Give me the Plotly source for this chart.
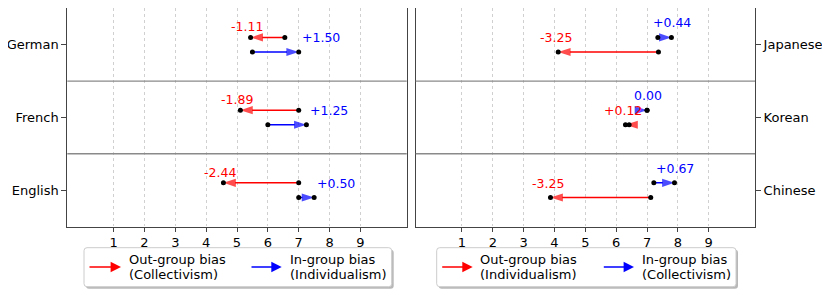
import plotly.graph_objects as go

# ---------------- data ----------------
left_langs = ["German", "French", "English"]
left_out_start = [6.55, 7.00, 7.00]
left_out_end = [5.44, 5.11, 4.56]
left_out_label = ["-1.11", "-1.89", "-2.44"]
left_in_start = [5.50, 6.00, 7.00]
left_in_end = [7.00, 7.25, 7.50]
left_in_label = ["+1.50", "+1.25", "+0.50"]

right_langs = ["Japanese", "Korean", "Chinese"]
right_in_start = [7.35, 7.00, 7.22]
right_in_end = [7.79, 7.00, 7.89]
right_in_label = ["+0.44", "0.00", "+0.67"]
right_out_start = [7.37, 6.42, 7.12]
right_out_end = [4.12, 6.30, 3.87]
right_out_label = ["-3.25", "+0.12", "-3.25"]

x_ticks = [1, 2, 3, 4, 5, 6, 7, 8, 9]
left_legend = ["Out-group bias", "(Collectivism)", "In-group bias", "(Individualism)"]
right_legend = ["Out-group bias", "(Individualism)", "In-group bias", "(Collectivism)"]

# ---------------- style ----------------
PAGE_OFF = 8          # default body margin of the page
W, H = 830 - PAGE_OFF, 297 - PAGE_OFF
FONT = "DejaVu Sans"
RED, BLUE = "#ff0000", "#0000ff"
SPINE = "#444444"
OFF = 0.1


def px(x):
    return (x - PAGE_OFF) / W


def py(y):
    return 1 - (y - PAGE_OFF) / H


fig = go.Figure()
annotations = []
shapes = []


def add_arrow(xs, xe, y, color, xa, ya):
    fig.add_trace(go.Scatter(
        x=[xs, xe], y=[y, y], xaxis=xa, yaxis=ya, mode="lines+markers",
        line=dict(color=color, width=1.5),
        marker=dict(symbol="arrow", size=[0, 13], angleref="previous", color=color,
                    line=dict(width=0)),
        showlegend=False, hoverinfo="skip"))


def add_dots(xs, ys, xa, ya):
    fig.add_trace(go.Scatter(
        x=xs, y=ys, xaxis=xa, yaxis=ya, mode="markers",
        marker=dict(color="black", size=5), showlegend=False, hoverinfo="skip"))


# left panel: out-group (red) on upper line, in-group (blue) lower
dx, dy = [], []
for i in range(3):
    add_arrow(left_out_start[i], left_out_end[i], i - OFF, RED, "x", "y")
    add_arrow(left_in_start[i], left_in_end[i], i + OFF, BLUE, "x", "y")
    dx += [left_out_start[i], left_out_end[i], left_in_start[i], left_in_end[i]]
    dy += [i - OFF, i - OFF, i + OFF, i + OFF]
    annotations.append(dict(x=left_out_end[i] - 0.1, y=i - 0.245, xref="x", yref="y",
                            text=left_out_label[i], showarrow=False, xanchor="center",
                            yanchor="middle", font=dict(color=RED, size=12.5, family=FONT)))
    annotations.append(dict(x=left_in_end[i] + 0.04, y=i - 0.095, xref="x", yref="y",
                            text=left_in_label[i], showarrow=False, xanchor="left",
                            yanchor="middle", font=dict(color=BLUE, size=12.5, family=FONT)))
add_dots(dx, dy, "x", "y")

# right panel: in-group (blue) on upper line, out-group (red) lower
dx, dy = [], []
for i in range(3):
    add_arrow(right_in_start[i], right_in_end[i], i - OFF, BLUE, "x2", "y2")
    add_arrow(right_out_start[i], right_out_end[i], i + OFF, RED, "x2", "y2")
    dx += [right_in_start[i], right_in_end[i], right_out_start[i], right_out_end[i]]
    dy += [i - OFF, i - OFF, i + OFF, i + OFF]
    annotations.append(dict(x=right_in_end[i] + 0.02, y=i - 0.3, xref="x2", yref="y2",
                            text=right_in_label[i], showarrow=False, xanchor="center",
                            yanchor="middle", font=dict(color=BLUE, size=12.5, family=FONT)))
    annotations.append(dict(x=right_out_end[i] - 0.08, y=i - 0.097, xref="x2", yref="y2",
                            text=right_out_label[i], showarrow=False, xanchor="center",
                            yanchor="middle", font=dict(color=RED, size=12.5, family=FONT)))
add_dots(dx, dy, "x2", "y2")

# row separators
for ya in ["y", "y2"]:
    xa = "x" if ya == "y" else "x2"
    for yv in [0.5, 1.5]:
        shapes.append(dict(type="line", xref=f"{xa} domain", yref=ya, x0=0, x1=1,
                           y0=yv, y1=yv, line=dict(color="#8a8a8a", width=1.3),
                           layer="above"))


# legends (manual boxes)
def rounded(x0, y0, x1, y1, r):
    return (f"M{px(x0+r)},{py(y0)} L{px(x1-r)},{py(y0)} Q{px(x1)},{py(y0)} {px(x1)},{py(y0+r)} "
            f"L{px(x1)},{py(y1-r)} Q{px(x1)},{py(y1)} {px(x1-r)},{py(y1)} "
            f"L{px(x0+r)},{py(y1)} Q{px(x0)},{py(y1)} {px(x0)},{py(y1-r)} "
            f"L{px(x0)},{py(y0+r)} Q{px(x0)},{py(y0)} {px(x0+r)},{py(y0)} Z")


def add_legend(x0, x1, texts, a1, t1, a2, t2):
    y0, y1 = 247.7, 286.7
    shapes.append(dict(type="path", xref="paper", yref="paper",
                       path=rounded(x0 + 2, y0 + 2, x1 + 2, y1 + 2, 3),
                       fillcolor="rgba(0,0,0,0.28)", line=dict(width=0)))
    shapes.append(dict(type="path", xref="paper", yref="paper",
                       path=rounded(x0, y0, x1, y1, 3),
                       fillcolor="white", line=dict(color="#cccccc", width=1)))
    for (ax0, ax1), col in [(a1, RED), (a2, BLUE)]:
        annotations.append(dict(x=px(ax1), y=py(267), xref="paper", yref="paper",
                                ax=-(ax1 - ax0), ay=0, text="", showarrow=True,
                                arrowhead=2, arrowsize=1.3, arrowwidth=1.6,
                                arrowcolor=col))
    for tx, lines in [(t1, texts[0:2]), (t2, texts[2:4])]:
        for k, ly in enumerate([259.3, 274.3]):
            annotations.append(dict(x=px(tx), y=py(ly), xref="paper", yref="paper",
                                    text=lines[k], showarrow=False, xanchor="left",
                                    yanchor="middle", font=dict(size=13, family=FONT,
                                                                color="black")))


add_legend(84, 391.7, left_legend, (88, 121), 126.7, (250, 281.7), 287.7)
add_legend(436.7, 736, right_legend, (440.7, 472.7), 478.3, (602.3, 634), 640)

ydom = [py(226.5), py(8.3)]
xaxis_common = dict(range=[-0.5, 10.5], tickvals=x_ticks, ticktext=[str(t) for t in x_ticks],
                    showgrid=True, gridcolor="#d0d0d0", griddash="dot", gridwidth=0.8,
                    showline=True, linecolor=SPINE, linewidth=1, mirror=True,
                    ticks="outside", ticklen=4, tickcolor=SPINE, zeroline=False,
                    tickfont=dict(size=13, family=FONT, color="black"))
yaxis_common = dict(range=[2.5, -0.5], tickvals=[0, 1, 2], showgrid=False,
                    showline=True, linecolor=SPINE, linewidth=1, mirror=True,
                    ticks="outside", ticklen=5, tickcolor=SPINE, zeroline=False,
                    tickfont=dict(size=13, family=FONT, color="black"), domain=ydom)

fig.update_layout(
    width=W, height=H, margin=dict(l=0, r=0, t=0, b=0),
    paper_bgcolor="white", plot_bgcolor="white",
    font=dict(family=FONT, size=13),
    xaxis=dict(domain=[px(67.3), px(406.7)], anchor="y", **xaxis_common),
    xaxis2=dict(domain=[px(415.7), px(755)], anchor="y2", **xaxis_common),
    yaxis=dict(anchor="x", ticktext=left_langs, side="left", **yaxis_common),
    yaxis2=dict(anchor="x2", ticktext=right_langs, side="right", **yaxis_common),
    annotations=annotations, shapes=shapes, showlegend=False,
)

fig.write_html("out.html")
